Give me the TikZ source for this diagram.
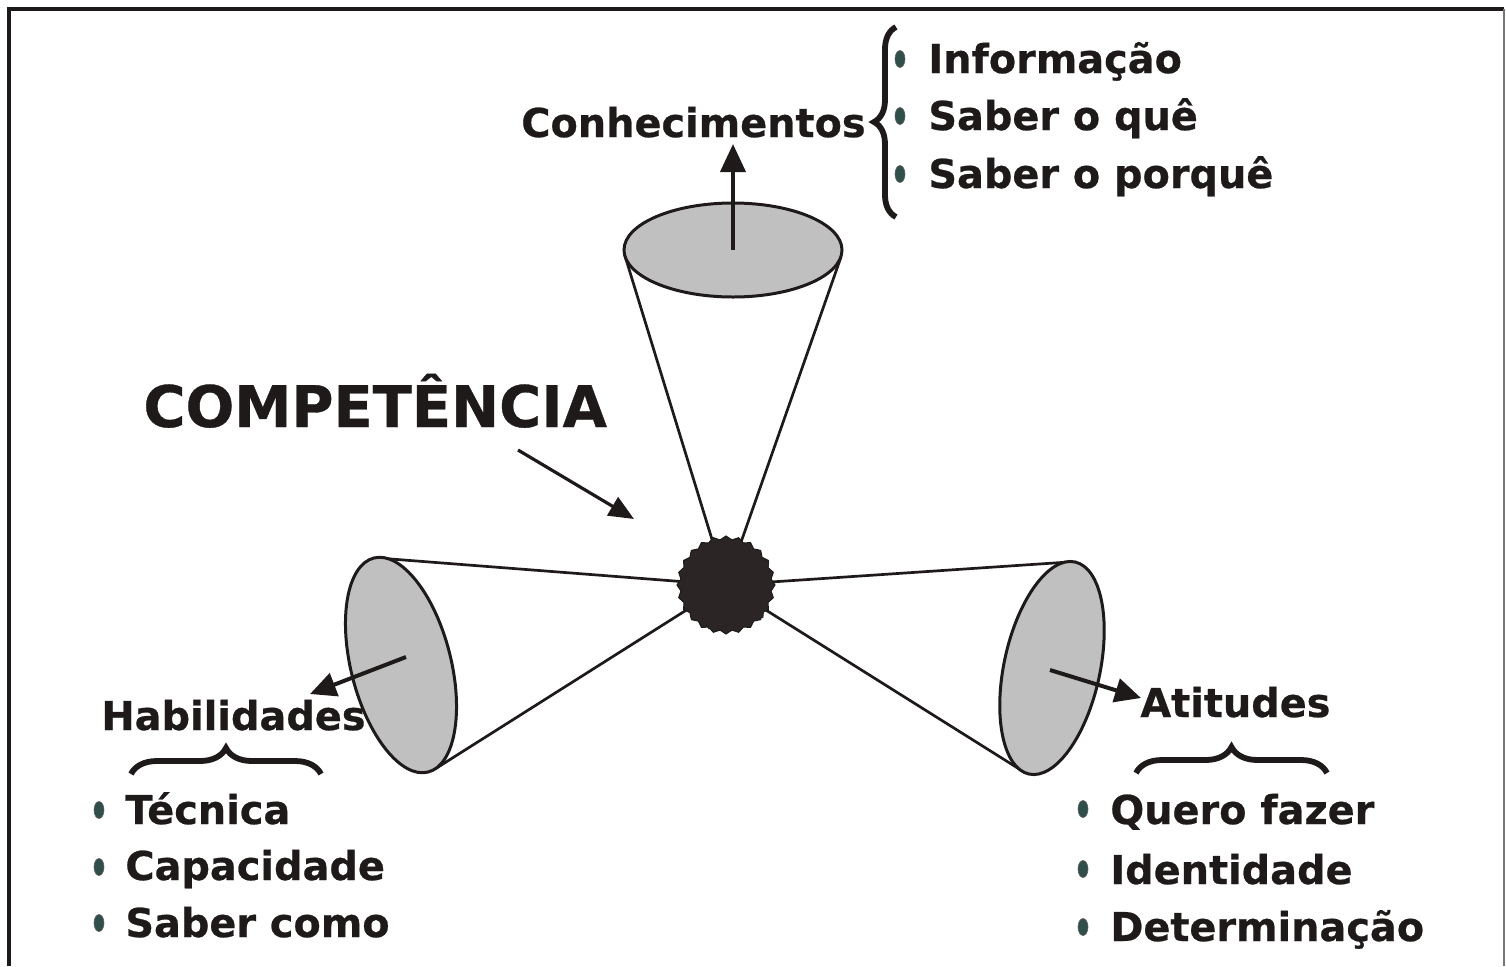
\documentclass[tikz,border=0pt]{standalone}
\usepackage{fontspec}
\setmainfont{DejaVu Sans}[BoldFeatures={FakeBold=0.6}]
\usetikzlibrary{arrows.meta,decorations.pathreplacing,shapes.geometric,calc}
\definecolor{ink}{HTML}{1E1A1A}
\definecolor{conegray}{HTML}{C0C0C0}
\definecolor{bulletc}{HTML}{2F4F4A}
\definecolor{hubfill}{HTML}{2B2525}
\begin{document}
\begin{tikzpicture}[x=0.5pt,y=-0.5pt,
  lbl/.style={inner sep=0pt, anchor=base west, text=ink, font=\bfseries\fontsize{19.9}{24}\selectfont},
  disc/.style={ellipse, draw=ink, fill=conegray, line width=1.5pt, inner sep=0pt},
  coneline/.style={draw=ink, line width=1.35pt},
  ptr/.style={draw=ink, line width=2pt, -{Triangle[length=13pt,width=12pt]}},
  dot/.style={ellipse, fill=bulletc, draw=ink!70, line width=0.3pt, minimum width=5pt, minimum height=8.5pt, inner sep=0pt},
  curly/.style={draw=ink, line width=2.9pt, decorate, decoration={brace, amplitude=#1}}
]
\useasboundingbox (0,0) rectangle (1506,966);

% frame
\draw[ink, line width=2.2pt] (9,966) -- (9,9) -- (1504,9);
\draw[ink!60, line width=0.8pt] (1504,9) -- (1504,966);

% cone geometry
\coordinate (core) at (726,585);
\coordinate (tl) at (625,256);
\coordinate (tr) at (841,257);
\coordinate (ll) at (378,558);
\coordinate (lb) at (435,769);
\coordinate (ru) at (1069,562);
\coordinate (rb) at (1024,772);

\draw[coneline] (tl) -- (core) -- (tr);
\draw[coneline] (ll) -- (core) -- (lb);
\draw[coneline] (ru) -- (core) -- (rb);

\node[disc, minimum width=109pt, minimum height=47pt] (topdisc) at (733,250) {};
\node[disc, minimum width=110.4pt, minimum height=50pt, rotate=-75.8] (leftdisc) at (401,665) {};
\node[disc, minimum width=108.5pt, minimum height=48pt, rotate=77.8] (rightdisc) at (1052,668) {};

% hub
\fill[hubfill, draw=ink, line width=0.5pt, shift={(726,585)}] (0:49) \foreach \i in {1,...,47} {-- ({\i*7.5}:{45.5+3.5*mod(\i+1,2)})} -- cycle;
\node[regular polygon, regular polygon sides=5, fill=hubfill, draw=black!85, line width=0.4pt, minimum size=47pt, rotate=12, inner sep=0pt] (hub) at (728,586) {};

% arrows
\coordinate (kup) at (733,144);
\coordinate (hab) at (310,694);
\coordinate (att) at (1141,698);
\coordinate (cs) at (518,450);
\coordinate (ce) at (634,519);
\draw[ptr, -{Triangle[length=14pt,width=12.5pt]}] (topdisc.center) -- (kup);
\draw[ptr] ($(leftdisc.center)+(5,-8)$) -- (hab);
\draw[ptr] ($(rightdisc.center)+(-2,2)$) -- (att);
\draw[ptr, line width=1.6pt, -{Triangle[length=12.5pt,width=10.5pt]}] (cs) -- (ce);

% main labels
\node[lbl, font=\bfseries\fontsize{28.7}{32}\selectfont] (comp) at (143,427) {COMPETÊNCIA};
\node[lbl, anchor=base east] (conh) at (866,137) {Conhecimentos};
\node[lbl] (habl) at (101,730) {Habilidades};
\node[lbl] (atit) at (1140,717) {Atitudes};

% braces
\coordinate (b1s) at (896,217);
\coordinate (b1e) at (896,27);
\draw[curly=11pt] (b1s) -- (b1e);
\coordinate (b2s) at (131,774);
\coordinate (b2e) at (321,774);
\draw[curly=13pt] (b2s) -- (b2e);
\coordinate (b3s) at (1136,773);
\coordinate (b3e) at (1327,773);
\draw[curly=13pt] (b3s) -- (b3e);

% top list
\node[dot] (d1) at (900,59) {};
\node[dot] (d2) at (900,116) {};
\node[dot] (d3) at (900,174) {};
\node[lbl] (i1) at (928,73) {Informação};
\node[lbl] (i2) at (928,130) {Saber o quê};
\node[lbl] (i3) at (928,188) {Saber o porquê};

% left list
\node[dot] (d4) at (99,810) {};
\node[dot] (d5) at (99,867) {};
\node[dot] (d6) at (99,923) {};
\node[lbl] (h1) at (125,824) {Técnica};
\node[lbl] (h2) at (125,880) {Capacidade};
\node[lbl] (h3) at (125,937) {Saber como};

% right list
\node[dot] (d7) at (1083,809) {};
\node[dot] (d8) at (1083,869) {};
\node[dot] (d9) at (1083,927) {};
\node[lbl] (a1) at (1110,824) {Quero fazer};
\node[lbl] (a2) at (1110,884) {Identidade};
\node[lbl] (a3) at (1110,941) {Determinação};
\end{tikzpicture}
\end{document}
